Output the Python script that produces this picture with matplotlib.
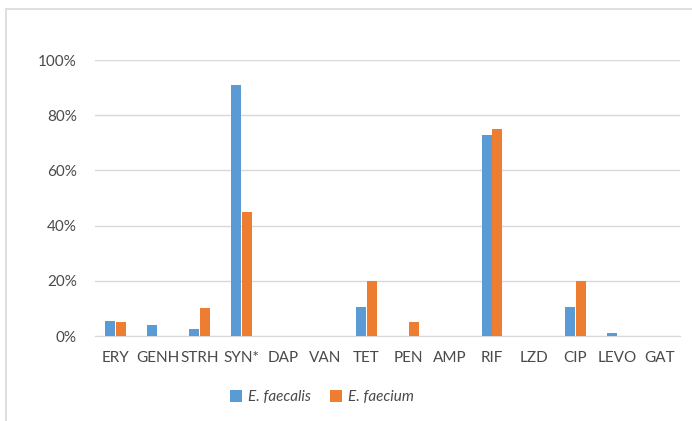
import matplotlib
matplotlib.use("Agg")
import matplotlib.pyplot as plt
import numpy as np
from matplotlib.patches import Rectangle
from matplotlib.ticker import PercentFormatter

categories = ["ERY", "GENH", "STRH", "SYN*", "DAP", "VAN", "TET", "PEN", "AMP", "RIF", "LZD", "CIP", "LEVO", "GAT"]
faecalis = [5.4, 4.0, 2.5, 91.0, 0, 0, 10.5, 0, 0, 73.0, 0, 10.5, 1.0, 0]
faecium = [5.0, 0, 10.0, 45.0, 0, 0, 20.0, 5.0, 0, 75.0, 0, 20.0, 0, 0]
series_names = ["E. faecalis", "E. faecium"]

plt.rcParams['font.family'] = ['Lato', 'DejaVu Sans']
W, H = 692, 421
fig = plt.figure(figsize=(W/100, H/100), dpi=100)
ax = fig.add_axes([95/W, 1-336/H, (680-95)/W, (336-60)/H])

x = np.arange(len(categories))
bw = 0.24
blue = "#5B9BD5"
orange = "#ED7D31"
ax.bar(x - 0.13, np.array(faecalis)/100, bw, color=blue, label=series_names[0], zorder=3)
ax.bar(x + 0.13, np.array(faecium)/100, bw, color=orange, label=series_names[1], zorder=3)

ax.set_xlim(-0.5, len(categories)-0.5)
ax.set_ylim(0, 1.0)
ax.set_yticks(np.arange(0, 1.01, 0.2))
ax.yaxis.set_major_formatter(PercentFormatter(1.0, decimals=0))
ax.set_xticks(x)
ax.set_xticklabels(categories)
ax.grid(axis='y', color="#D9D9D9", linewidth=1, zorder=0)
for s in ["top", "right", "left"]:
    ax.spines[s].set_visible(False)
ax.spines["bottom"].set_color("#D9D9D9")
ax.tick_params(axis='both', length=0, labelsize=11, labelcolor="#4A4A4A")
ax.tick_params(axis='x', pad=11)
ax.tick_params(axis='y', pad=13)

leg = fig.legend(loc='center', bbox_to_anchor=(322/W, 1-397/H), ncol=2, frameon=False,
                 prop={'style': 'italic', 'size': 11}, handlelength=0.8, handleheight=0.8,
                 columnspacing=1.2, handletextpad=0.4)
for t in leg.get_texts():
    t.set_color("#4A4A4A")

# outer frame
fig.patches.append(Rectangle((6/W, -0.1), 1.2, 1-9/H+0.1, transform=fig.transFigure,
                             fill=False, edgecolor="#D9D9D9", linewidth=1.2))

fig.savefig("out.png", dpi=100)
